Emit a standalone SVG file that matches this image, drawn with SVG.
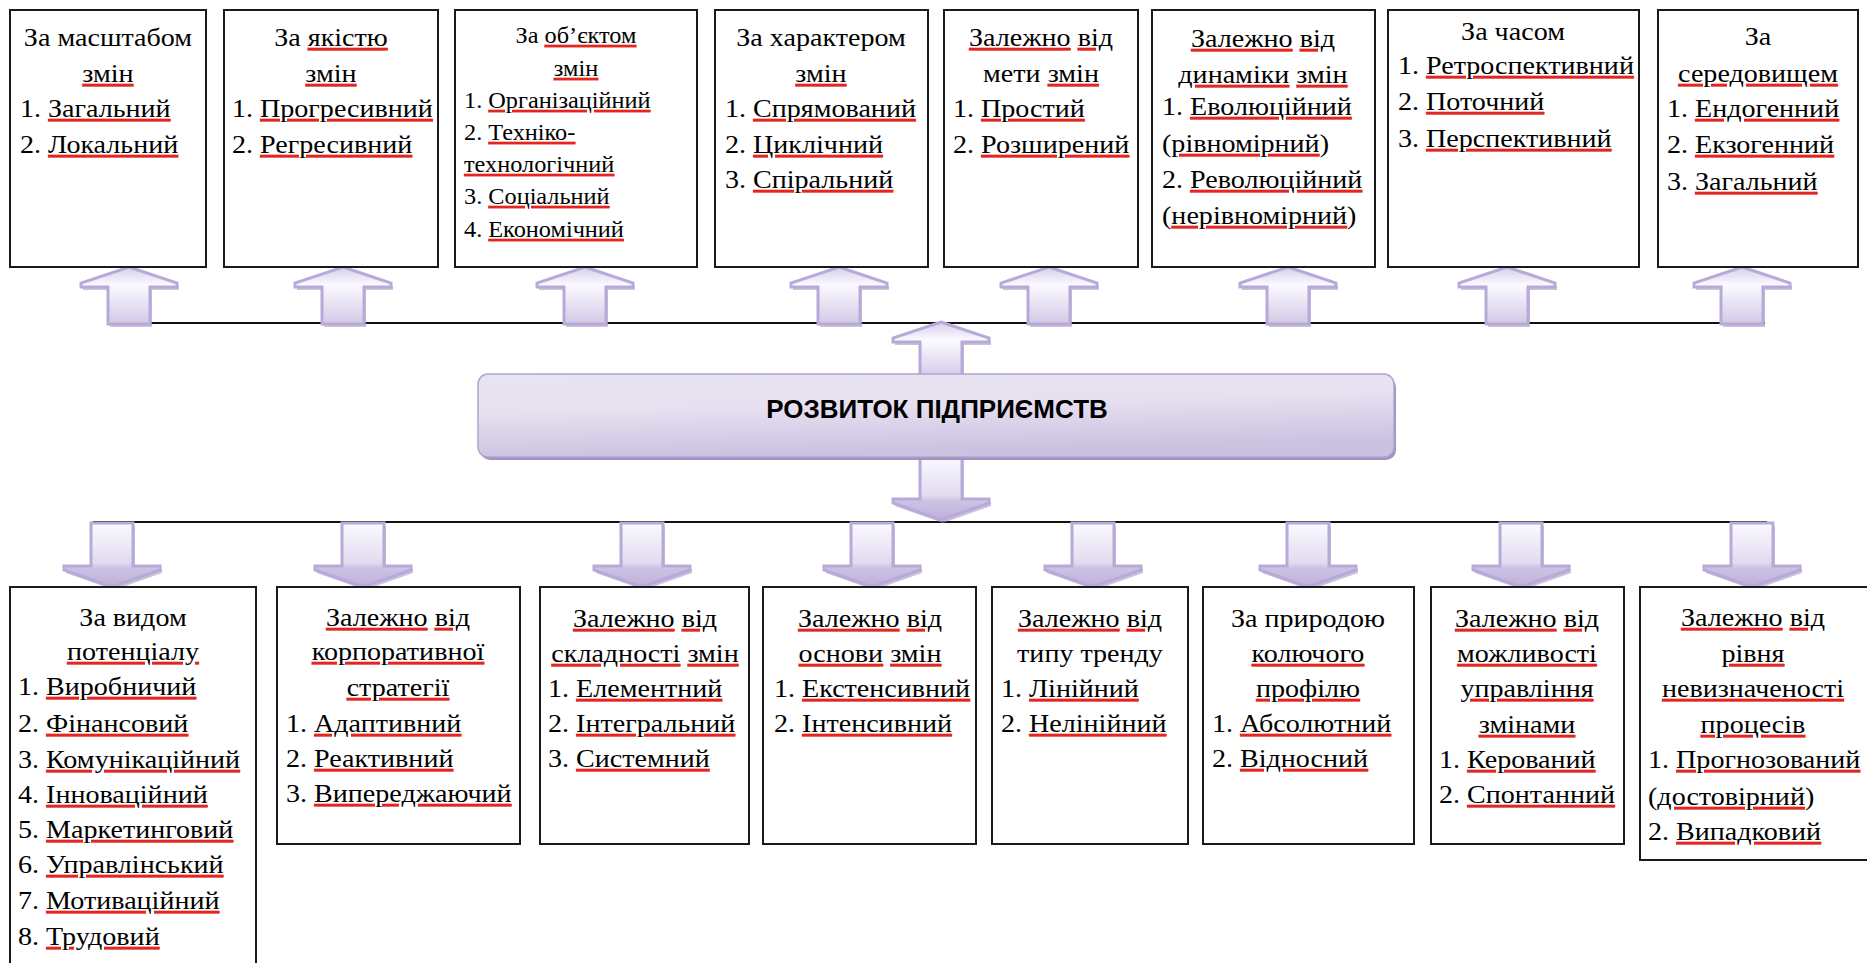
<svg xmlns="http://www.w3.org/2000/svg" xmlns:xlink="http://www.w3.org/1999/xlink" width="1867" height="963" viewBox="0 0 1867 963">
<style>
  .box { fill:#ffffff; stroke:#1a1a1a; stroke-width:2; }
  .t { font-family:"Liberation Serif","Times New Roman",serif; font-size:26px; fill:#000; }
  .sm { font-size:22.5px; }
  .c { text-anchor:middle; }
  .w { fill:#e3261f; stroke:#e3261f; stroke-width:0.35; text-decoration:underline; }
  .k { fill:#000; stroke:none; }
  .hline { stroke:#111; stroke-width:2.2; fill:none; }
  .ua { fill:url(#gUp); stroke:#b8aad8; stroke-width:3; stroke-linejoin:miter; }
  .da { fill:url(#gDown); stroke:#b8aad8; stroke-width:3; stroke-linejoin:miter; }
  .sh { fill:#9d90c0; opacity:0.55; }
  .title { font-family:"Liberation Sans",Arial,sans-serif; font-weight:bold; font-size:26px; fill:#000; text-anchor:middle; }
</style>
<defs>
  <linearGradient id="gUp" x1="0" y1="0" x2="0" y2="1">
    <stop offset="0" stop-color="#d6cdea"/>
    <stop offset="0.32" stop-color="#fbfaff"/>
    <stop offset="1" stop-color="#d2c8e6"/>
  </linearGradient>
  <linearGradient id="gDown" x1="0" y1="0" x2="0" y2="1">
    <stop offset="0" stop-color="#fbfaff"/>
    <stop offset="0.62" stop-color="#e2dbf0"/>
    <stop offset="0.7" stop-color="#cdc2e4"/>
    <stop offset="1" stop-color="#beb1da"/>
  </linearGradient>
  <linearGradient id="gCenter" x1="0" y1="0" x2="0.25" y2="1">
    <stop offset="0" stop-color="#e9e4f1"/>
    <stop offset="0.45" stop-color="#e6e0f0"/>
    <stop offset="1" stop-color="#cbc1e0"/>
  </linearGradient>
  <path id="ua" d="M0,0 L48,16 L48,20 L21,20 L21,57 L-21,57 L-21,20 L-48,20 L-48,16 Z"/>
  <path id="da" d="M-21,0 L21,0 L21,43 L48,43 L48,47 L0,64 L-48,47 L-48,43 L-21,43 Z"/>
</defs>
<rect width="1867" height="963" fill="#ffffff"/>

<g id="connectors">
  <line class="hline" x1="108" y1="323" x2="1765" y2="323"/>
  <line class="hline" x1="93" y1="522" x2="1767" y2="522"/>
  <g transform="translate(129,267)"><use xlink:href="#ua" class="sh" transform="translate(2,3)"/><use xlink:href="#ua" class="ua"/></g>
  <g transform="translate(343,267)"><use xlink:href="#ua" class="sh" transform="translate(2,3)"/><use xlink:href="#ua" class="ua"/></g>
  <g transform="translate(585,267)"><use xlink:href="#ua" class="sh" transform="translate(2,3)"/><use xlink:href="#ua" class="ua"/></g>
  <g transform="translate(839,267)"><use xlink:href="#ua" class="sh" transform="translate(2,3)"/><use xlink:href="#ua" class="ua"/></g>
  <g transform="translate(1049,267)"><use xlink:href="#ua" class="sh" transform="translate(2,3)"/><use xlink:href="#ua" class="ua"/></g>
  <g transform="translate(1288,267)"><use xlink:href="#ua" class="sh" transform="translate(2,3)"/><use xlink:href="#ua" class="ua"/></g>
  <g transform="translate(1507,267)"><use xlink:href="#ua" class="sh" transform="translate(2,3)"/><use xlink:href="#ua" class="ua"/></g>
  <g transform="translate(1742,267)"><use xlink:href="#ua" class="sh" transform="translate(2,3)"/><use xlink:href="#ua" class="ua"/></g>
  <g transform="translate(941,322)"><use xlink:href="#ua" class="sh" transform="translate(2,3)"/><use xlink:href="#ua" class="ua"/></g>
  <g transform="translate(941,456)"><use xlink:href="#da" class="sh" transform="translate(2,3)"/><use xlink:href="#da" class="da"/></g>
  <g transform="translate(112,523)"><use xlink:href="#da" class="sh" transform="translate(2,3)"/><use xlink:href="#da" class="da"/></g>
  <g transform="translate(363,523)"><use xlink:href="#da" class="sh" transform="translate(2,3)"/><use xlink:href="#da" class="da"/></g>
  <g transform="translate(642,523)"><use xlink:href="#da" class="sh" transform="translate(2,3)"/><use xlink:href="#da" class="da"/></g>
  <g transform="translate(872,523)"><use xlink:href="#da" class="sh" transform="translate(2,3)"/><use xlink:href="#da" class="da"/></g>
  <g transform="translate(1093,523)"><use xlink:href="#da" class="sh" transform="translate(2,3)"/><use xlink:href="#da" class="da"/></g>
  <g transform="translate(1308,523)"><use xlink:href="#da" class="sh" transform="translate(2,3)"/><use xlink:href="#da" class="da"/></g>
  <g transform="translate(1521,523)"><use xlink:href="#da" class="sh" transform="translate(2,3)"/><use xlink:href="#da" class="da"/></g>
  <g transform="translate(1752,523)"><use xlink:href="#da" class="sh" transform="translate(2,3)"/><use xlink:href="#da" class="da"/></g>
</g>

<g id="center">
  <rect x="480" y="377" width="916" height="83" rx="10" fill="#a093c0"/>
  <rect x="478" y="374" width="916" height="83" rx="10" fill="url(#gCenter)" stroke="#b1a4d1" stroke-width="1.5"/>
  <text class="title" x="937" y="418">РОЗВИТОК ПІДПРИЄМСТВ</text>
</g>

<g id="top1">
  <rect class="box" x="10" y="10" width="196" height="257"/>
  <g transform="matrix(1.08,0,0,1,-8.64,0)">
  <text class="t c" x="108" y="46">За масштабом</text>
  <text class="t c" x="108" y="82"><tspan class="w"><tspan class="k">змін</tspan></tspan></text>
  <text class="t" x="26.5" y="117">1. <tspan class="w"><tspan class="k">Загальний</tspan></tspan></text>
  <text class="t" x="26.5" y="153">2. <tspan class="w"><tspan class="k">Локальний</tspan></tspan></text>
  </g>
</g>
<g id="top2">
  <rect class="box" x="224" y="10" width="214" height="257"/>
  <g transform="matrix(1.08,0,0,1,-26.48,0)">
  <text class="t c" x="331" y="46">За <tspan class="w"><tspan class="k">якістю</tspan></tspan></text>
  <text class="t c" x="331" y="82"><tspan class="w"><tspan class="k">змін</tspan></tspan></text>
  <text class="t" x="239.3" y="117">1. <tspan class="w"><tspan class="k">Прогресивний</tspan></tspan></text>
  <text class="t" x="239.3" y="153">2. <tspan class="w"><tspan class="k">Регресивний</tspan></tspan></text>
  </g>
</g>
<g id="top3">
  <rect class="box" x="455" y="10" width="242" height="257"/>
  <g transform="matrix(1.08,0,0,1,-46.08,0)">
  <text class="t sm c" x="576" y="43">За <tspan class="w"><tspan class="k">об’єктом</tspan></tspan></text>
  <text class="t sm c" x="576" y="76"><tspan class="w"><tspan class="k">змін</tspan></tspan></text>
  <text class="t sm" x="472.3" y="108">1. <tspan class="w"><tspan class="k">Організаційний</tspan></tspan></text>
  <text class="t sm" x="472.3" y="140">2. <tspan class="w"><tspan class="k">Техніко-</tspan></tspan></text>
  <text class="t sm" x="472.3" y="172"><tspan class="w"><tspan class="k">технологічний</tspan></tspan></text>
  <text class="t sm" x="472.3" y="204">3. <tspan class="w"><tspan class="k">Соціальний</tspan></tspan></text>
  <text class="t sm" x="472.3" y="237">4. <tspan class="w"><tspan class="k">Економічний</tspan></tspan></text>
  </g>
</g>
<g id="top4">
  <rect class="box" x="715" y="10" width="213" height="257"/>
  <g transform="matrix(1.08,0,0,1,-65.68,0)">
  <text class="t c" x="821" y="46">За характером</text>
  <text class="t c" x="821" y="82"><tspan class="w"><tspan class="k">змін</tspan></tspan></text>
  <text class="t" x="732.1" y="117">1. <tspan class="w"><tspan class="k">Спрямований</tspan></tspan></text>
  <text class="t" x="732.1" y="153">2. <tspan class="w"><tspan class="k">Циклічний</tspan></tspan></text>
  <text class="t" x="732.1" y="188">3. <tspan class="w"><tspan class="k">Спіральний</tspan></tspan></text>
  </g>
</g>
<g id="top5">
  <rect class="box" x="944" y="10" width="194" height="257"/>
  <g transform="matrix(1.08,0,0,1,-83.28,0)">
  <text class="t c" x="1041" y="46"><tspan class="w"><tspan class="k">Залежно</tspan></tspan> <tspan class="w"><tspan class="k">від</tspan></tspan></text>
  <text class="t c" x="1041" y="82">мети <tspan class="w"><tspan class="k">змін</tspan></tspan></text>
  <text class="t" x="959.5" y="117">1. <tspan class="w"><tspan class="k">Простий</tspan></tspan></text>
  <text class="t" x="959.5" y="153">2. <tspan class="w"><tspan class="k">Розширений</tspan></tspan></text>
  </g>
</g>
<g id="top6">
  <rect class="box" x="1152" y="10" width="223" height="257"/>
  <g transform="matrix(1.08,0,0,1,-101.04,0)">
  <text class="t c" x="1263" y="47"><tspan class="w"><tspan class="k">Залежно</tspan></tspan> <tspan class="w"><tspan class="k">від</tspan></tspan></text>
  <text class="t c" x="1263" y="83"><tspan class="w"><tspan class="k">динаміки</tspan></tspan> <tspan class="w"><tspan class="k">змін</tspan></tspan></text>
  <text class="t" x="1169.5" y="115">1. <tspan class="w"><tspan class="k">Еволюційний</tspan></tspan></text>
  <text class="t" x="1169.5" y="152">(<tspan class="w"><tspan class="k">рівномірний</tspan></tspan>)</text>
  <text class="t" x="1169.5" y="188">2. <tspan class="w"><tspan class="k">Революційний</tspan></tspan></text>
  <text class="t" x="1169.5" y="224">(<tspan class="w"><tspan class="k">нерівномірний</tspan></tspan>)</text>
  </g>
</g>
<g id="top7">
  <rect class="box" x="1388" y="10" width="251" height="257"/>
  <g transform="matrix(1.08,0,0,1,-121.04,0)">
  <text class="t c" x="1513" y="40">За часом</text>
  <text class="t" x="1406.5" y="74">1. <tspan class="w"><tspan class="k">Ретроспективний</tspan></tspan></text>
  <text class="t" x="1406.5" y="110">2. <tspan class="w"><tspan class="k">Поточний</tspan></tspan></text>
  <text class="t" x="1406.5" y="147">3. <tspan class="w"><tspan class="k">Перспективний</tspan></tspan></text>
  </g>
</g>
<g id="top8">
  <rect class="box" x="1658" y="10" width="200" height="257"/>
  <g transform="matrix(1.08,0,0,1,-140.64,0)">
  <text class="t c" x="1758" y="45">За</text>
  <text class="t c" x="1758" y="82"><tspan class="w"><tspan class="k">середовищем</tspan></tspan></text>
  <text class="t" x="1673.7" y="117">1. <tspan class="w"><tspan class="k">Ендогенний</tspan></tspan></text>
  <text class="t" x="1673.7" y="153">2. <tspan class="w"><tspan class="k">Екзогенний</tspan></tspan></text>
  <text class="t" x="1673.7" y="190">3. <tspan class="w"><tspan class="k">Загальний</tspan></tspan></text>
  </g>
</g>

<g id="bottom1">
  <rect class="box" x="10" y="587" width="246" height="400"/>
  <g transform="matrix(1.08,0,0,1,-10.64,0)">
  <text class="t c" x="133" y="626">За видом</text>
  <text class="t c" x="133" y="660"><tspan class="w"><tspan class="k">потенціалу</tspan></tspan></text>
  <text class="t" x="26.5" y="695">1. <tspan class="w"><tspan class="k">Виробничий</tspan></tspan></text>
  <text class="t" x="26.5" y="732">2. <tspan class="w"><tspan class="k">Фінансовий</tspan></tspan></text>
  <text class="t" x="26.5" y="768">3. <tspan class="w"><tspan class="k">Комунікаційний</tspan></tspan></text>
  <text class="t" x="26.5" y="803">4. <tspan class="w"><tspan class="k">Інноваційний</tspan></tspan></text>
  <text class="t" x="26.5" y="838">5. <tspan class="w"><tspan class="k">Маркетинговий</tspan></tspan></text>
  <text class="t" x="26.5" y="873">6. <tspan class="w"><tspan class="k">Управлінський</tspan></tspan></text>
  <text class="t" x="26.5" y="909">7. <tspan class="w"><tspan class="k">Мотиваційний</tspan></tspan></text>
  <text class="t" x="26.5" y="945">8. <tspan class="w"><tspan class="k">Трудовий</tspan></tspan></text>
  </g>
</g>
<g id="bottom2">
  <rect class="box" x="277" y="587" width="243" height="257"/>
  <g transform="matrix(1.08,0,0,1,-31.84,0)">
  <text class="t c" x="398" y="626"><tspan class="w"><tspan class="k">Залежно</tspan></tspan> <tspan class="w"><tspan class="k">від</tspan></tspan></text>
  <text class="t c" x="398" y="660"><tspan class="w"><tspan class="k">корпоративної</tspan></tspan></text>
  <text class="t c" x="398" y="696"><tspan class="w"><tspan class="k">стратегії</tspan></tspan></text>
  <text class="t" x="294.3" y="732">1. <tspan class="w"><tspan class="k">Адаптивний</tspan></tspan></text>
  <text class="t" x="294.3" y="767">2. <tspan class="w"><tspan class="k">Реактивний</tspan></tspan></text>
  <text class="t" x="294.3" y="802">3. <tspan class="w"><tspan class="k">Випереджаючий</tspan></tspan></text>
  </g>
</g>
<g id="bottom3">
  <rect class="box" x="540" y="587" width="209" height="257"/>
  <g transform="matrix(1.08,0,0,1,-51.6,0)">
  <text class="t c" x="645" y="627"><tspan class="w"><tspan class="k">Залежно</tspan></tspan> <tspan class="w"><tspan class="k">від</tspan></tspan></text>
  <text class="t c" x="645" y="662"><tspan class="w"><tspan class="k">складності</tspan></tspan> <tspan class="w"><tspan class="k">змін</tspan></tspan></text>
  <text class="t" x="555.2" y="697">1. <tspan class="w"><tspan class="k">Елементний</tspan></tspan></text>
  <text class="t" x="555.2" y="732">2. <tspan class="w"><tspan class="k">Інтегральний</tspan></tspan></text>
  <text class="t" x="555.2" y="767">3. <tspan class="w"><tspan class="k">Системний</tspan></tspan></text>
  </g>
</g>
<g id="bottom4">
  <rect class="box" x="763" y="587" width="213" height="257"/>
  <g transform="matrix(1.08,0,0,1,-69.6,0)">
  <text class="t c" x="870" y="627"><tspan class="w"><tspan class="k">Залежно</tspan></tspan> <tspan class="w"><tspan class="k">від</tspan></tspan></text>
  <text class="t c" x="870" y="662"><tspan class="w"><tspan class="k">основи</tspan></tspan> <tspan class="w"><tspan class="k">змін</tspan></tspan></text>
  <text class="t" x="781.1" y="697">1. <tspan class="w"><tspan class="k">Екстенсивний</tspan></tspan></text>
  <text class="t" x="781.1" y="732">2. <tspan class="w"><tspan class="k">Інтенсивний</tspan></tspan></text>
  </g>
</g>
<g id="bottom5">
  <rect class="box" x="992" y="587" width="196" height="257"/>
  <g transform="matrix(1.08,0,0,1,-87.2,0)">
  <text class="t c" x="1090" y="627"><tspan class="w"><tspan class="k">Залежно</tspan></tspan> <tspan class="w"><tspan class="k">від</tspan></tspan></text>
  <text class="t c" x="1090" y="662">типу тренду</text>
  <text class="t" x="1007.6" y="697">1. <tspan class="w"><tspan class="k">Лінійний</tspan></tspan></text>
  <text class="t" x="1007.6" y="732">2. <tspan class="w"><tspan class="k">Нелінійний</tspan></tspan></text>
  </g>
</g>
<g id="bottom6">
  <rect class="box" x="1203" y="587" width="211" height="257"/>
  <g transform="matrix(1.08,0,0,1,-104.64,0)">
  <text class="t c" x="1308" y="627">За природою</text>
  <text class="t c" x="1308" y="662"><tspan class="w"><tspan class="k">колючого</tspan></tspan></text>
  <text class="t c" x="1308" y="697"><tspan class="w"><tspan class="k">профілю</tspan></tspan></text>
  <text class="t" x="1219.1" y="732">1. <tspan class="w"><tspan class="k">Абсолютний</tspan></tspan></text>
  <text class="t" x="1219.1" y="767">2. <tspan class="w"><tspan class="k">Відносний</tspan></tspan></text>
  </g>
</g>
<g id="bottom7">
  <rect class="box" x="1431" y="587" width="193" height="257"/>
  <g transform="matrix(1.08,0,0,1,-122.16,0)">
  <text class="t c" x="1527" y="627"><tspan class="w"><tspan class="k">Залежно</tspan></tspan> <tspan class="w"><tspan class="k">від</tspan></tspan></text>
  <text class="t c" x="1527" y="662"><tspan class="w"><tspan class="k">можливості</tspan></tspan></text>
  <text class="t c" x="1527" y="697"><tspan class="w"><tspan class="k">управління</tspan></tspan></text>
  <text class="t c" x="1527" y="733"><tspan class="w"><tspan class="k">змінами</tspan></tspan></text>
  <text class="t" x="1445.5" y="768">1. <tspan class="w"><tspan class="k">Керований</tspan></tspan></text>
  <text class="t" x="1445.5" y="803">2. <tspan class="w"><tspan class="k">Спонтанний</tspan></tspan></text>
  </g>
</g>
<g id="bottom8">
  <rect class="box" x="1640" y="587" width="230" height="273"/>
  <g transform="matrix(1.08,0,0,1,-140.24,0)">
  <text class="t c" x="1753" y="626"><tspan class="w"><tspan class="k">Залежно</tspan></tspan> <tspan class="w"><tspan class="k">від</tspan></tspan></text>
  <text class="t c" x="1753" y="662"><tspan class="w"><tspan class="k">рівня</tspan></tspan></text>
  <text class="t c" x="1753" y="697"><tspan class="w"><tspan class="k">невизначеності</tspan></tspan></text>
  <text class="t c" x="1753" y="733"><tspan class="w"><tspan class="k">процесів</tspan></tspan></text>
  <text class="t" x="1655.8" y="768">1. <tspan class="w"><tspan class="k">Прогнозований</tspan></tspan></text>
  <text class="t" x="1655.8" y="805">(<tspan class="w"><tspan class="k">достовірний</tspan></tspan>)</text>
  <text class="t" x="1655.8" y="840">2. <tspan class="w"><tspan class="k">Випадковий</tspan></tspan></text>
  </g>
</g>
</svg>
